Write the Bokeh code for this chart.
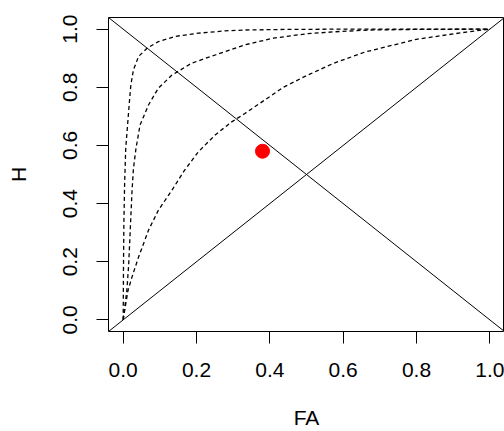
from bokeh.plotting import figure
from bokeh.models import FixedTicker, Slope, Range1d
from bokeh.embed import file_html
from bokeh.resources import INLINE

# ROC curves (false alarm rate FA, hit rate H)
fa_1 = [0, 0.0005, 0.001, 0.002, 0.004, 0.007, 0.012, 0.017, 0.021, 0.028, 0.042, 0.065, 0.096, 0.142, 0.205, 0.278, 0.332, 0.45, 0.6, 0.8, 1.0]
h_1 = [0, 0.10, 0.20, 0.34, 0.47, 0.59, 0.67, 0.75, 0.808, 0.86, 0.906, 0.934, 0.957, 0.975, 0.986, 0.994, 0.997, 0.999, 1.0, 1.0, 1.0]

fa_2 = [0, 0.004, 0.01, 0.015, 0.019, 0.024, 0.028, 0.035, 0.046, 0.069, 0.096, 0.133, 0.187, 0.251, 0.332, 0.41, 0.50, 0.591, 0.673, 0.8, 1.0]
h_2 = [0, 0.04, 0.10, 0.19, 0.30, 0.44, 0.52, 0.59, 0.67, 0.739, 0.797, 0.842, 0.883, 0.911, 0.946, 0.969, 0.984, 0.992, 0.997, 0.999, 1.0]

fa_3 = [0, 0.004, 0.013, 0.024, 0.042, 0.069, 0.096, 0.133, 0.166, 0.205, 0.251, 0.296, 0.332, 0.373, 0.437, 0.50, 0.573, 0.659, 0.80, 0.936, 1.0]
h_3 = [0, 0.032, 0.10, 0.147, 0.216, 0.308, 0.377, 0.446, 0.512, 0.578, 0.636, 0.681, 0.71, 0.745, 0.80, 0.84, 0.882, 0.921, 0.965, 0.99, 1.0]

# observed point
point_fa = [0.38]
point_h = [0.58]

ticks = [0.0, 0.2, 0.4, 0.6, 0.8, 1.0]
tick_labels = ["0.0", "0.2", "0.4", "0.6", "0.8", "1.0"]

FONT = "Liberation Sans"

p = figure(width=504, height=431, output_backend="svg", toolbar_location=None,
           x_range=Range1d(-0.04, 1.04), y_range=Range1d(-0.04, 1.04),
           min_border_left=108, min_border_top=17, min_border_right=0, min_border_bottom=100)
p.grid.visible = False
p.outline_line_color = "black"
p.outline_line_width = 1
p.background_fill_color = "white"
p.border_fill_color = "white"

for ax in (p.xaxis[0], p.yaxis[0]):
    ax.ticker = FixedTicker(ticks=ticks)
    ax.major_label_overrides = {t: l for t, l in zip(ticks, tick_labels)}
    ax.axis_line_color = None
    ax.major_tick_out = 12
    ax.major_tick_in = 0
    ax.minor_tick_out = 0
    ax.minor_tick_in = 0
    ax.major_tick_line_color = "black"
    ax.major_label_text_font = FONT
    ax.major_label_text_font_size = "21px"
    ax.major_label_text_color = "black"
    ax.axis_label_text_font = FONT
    ax.axis_label_text_font_size = "21px"
    ax.axis_label_text_font_style = "normal"
    ax.axis_label_text_color = "black"

p.xaxis.axis_label = "FA"
p.yaxis.axis_label = "H"
p.xaxis.major_label_standoff = 19
p.xaxis.axis_label_standoff = 26
p.yaxis.major_label_orientation = "vertical"
p.yaxis.major_label_standoff = 19
p.yaxis.axis_label_standoff = 31

p.add_layout(Slope(gradient=1, y_intercept=0, line_color="black", line_width=1))
p.add_layout(Slope(gradient=-1, y_intercept=1, line_color="black", line_width=1))

for fa, h in ((fa_1, h_1), (fa_2, h_2), (fa_3, h_3)):
    p.line(fa, h, line_color="black", line_width=1.3, line_dash="4 3")

p.scatter(point_fa, point_h, size=14, color="red", line_color="red")

open("out.html", "w").write(file_html(p, INLINE))
